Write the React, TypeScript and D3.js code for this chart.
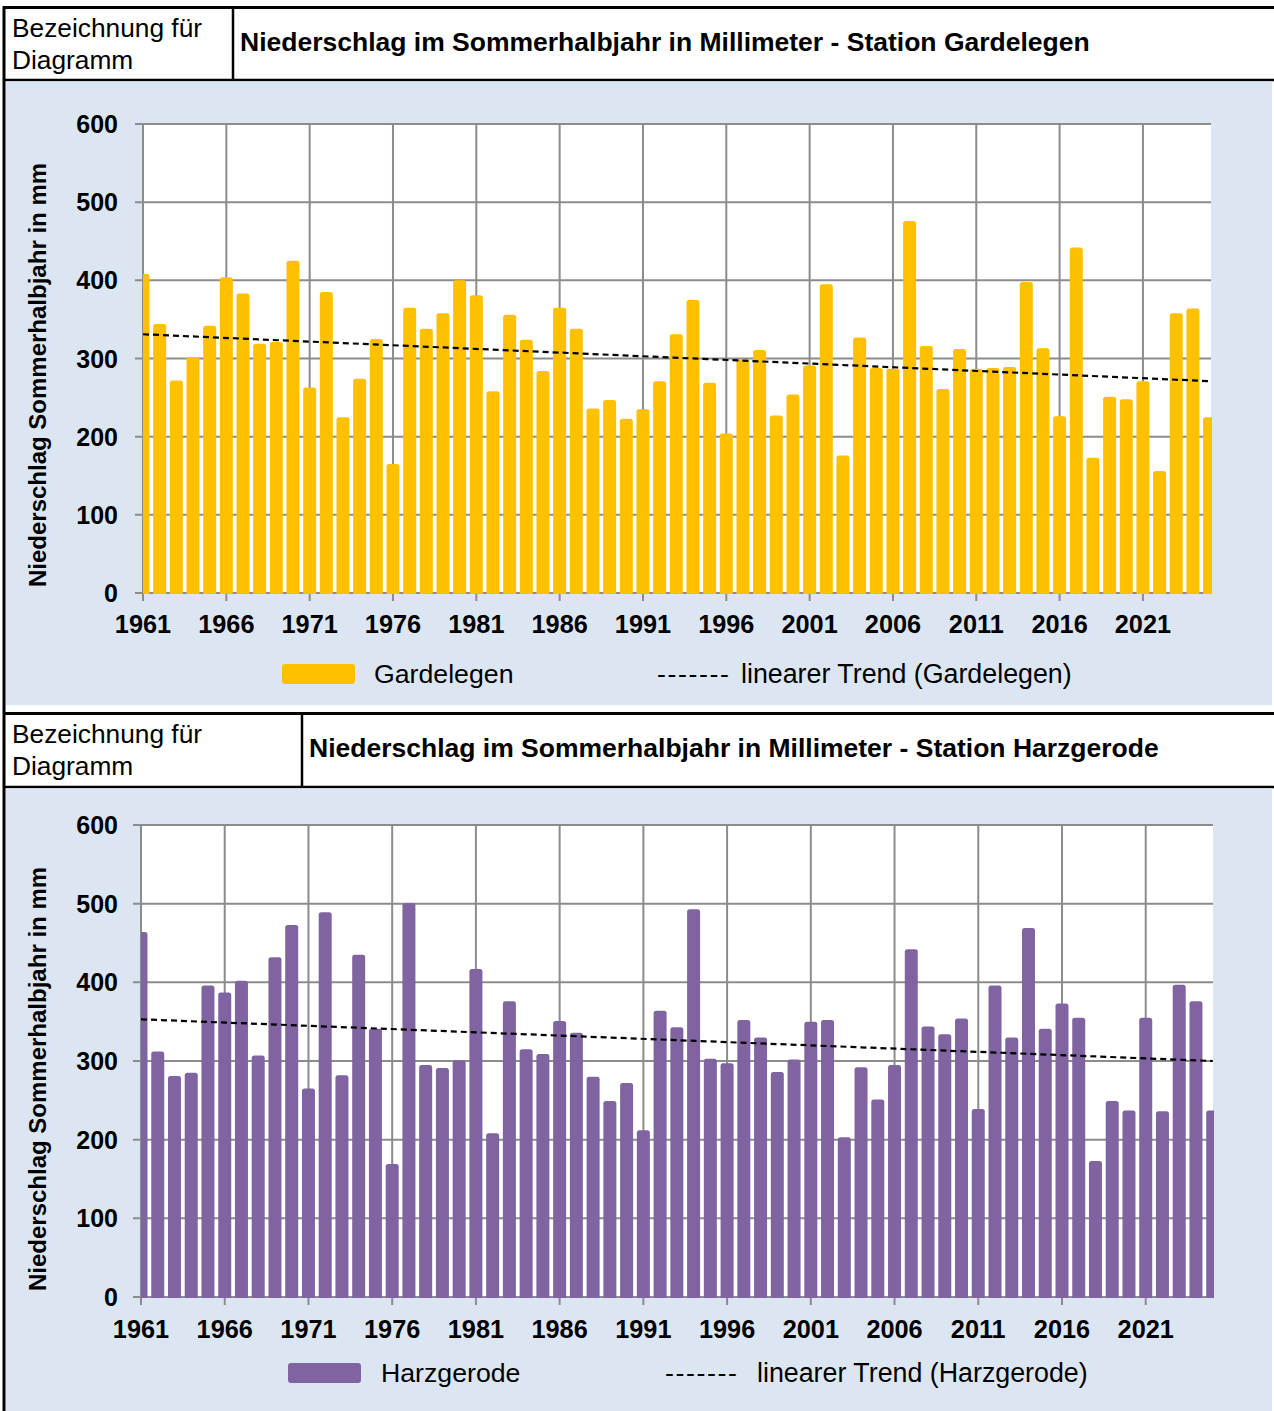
import React from 'react';
import * as d3 from 'd3';

const FIRST_YEAR = 1961;
const LAST_YEAR = 2025;
const years: number[] = d3.range(FIRST_YEAR, LAST_YEAR + 1);

const gardelegen = [
  408, 344, 272, 302, 342, 404, 383, 319, 321, 425,
  263, 385, 225, 274, 325, 165, 365, 338, 358, 400,
  381, 258, 356, 324, 284, 365, 338, 236, 247, 223,
  235, 271, 331, 375, 269, 204, 299, 311, 227, 254,
  291, 395, 176, 327, 288, 287, 476, 316, 261, 312,
  287, 288, 289, 398, 313, 226, 442, 173, 251, 248,
  271, 156, 358, 364, 225,
];

const harzgerode = [
  464, 312, 281, 285, 396, 387, 402, 307, 432, 473,
  265, 489, 282, 435, 341, 169, 501, 295, 291, 301,
  417, 208, 376, 315, 309, 351, 336, 280, 249, 272,
  212, 364, 343, 493, 303, 297, 352, 330, 286, 302,
  350, 352, 203, 292, 251, 295, 442, 344, 334, 354,
  239, 396, 330, 469, 341, 373, 355, 173, 249, 237,
  355, 236, 397, 376, 237,
];

// linear trend values at first and last year
const gardelegenTrend = [331, 271];
const harzgerodeTrend = [353, 300];

const yTicks = [0, 100, 200, 300, 400, 500, 600];
const xTickYears = [1961, 1966, 1971, 1976, 1981, 1986, 1991, 1996, 2001, 2006, 2011, 2016, 2021];

const FONT = '"Liberation Sans", Arial, Helvetica, sans-serif';
const BG = '#DCE6F2';
const GRID = '#8C8C8C';

type PanelProps = {
  id: string;
  top: number;
  headerBottom: number;
  bgBottom: number;
  dividerX: number;
  station: string;
  values: number[];
  trend: number[];
  color: string;
  plotLeft: number;
  plotRight: number;
  lastCenter: number;
  plotTop: number;
  plotBottom: number;
  xLabelBaseline: number;
  yTitleCenter: number;
  legendY: number;
  swatchX: number;
  nameX: number;
  dashX: number;
  trendX: number;
};

function Panel(p: PanelProps) {
  const x = d3.scaleLinear().domain([FIRST_YEAR, LAST_YEAR]).range([p.plotLeft, p.lastCenter]);
  const y = d3.scaleLinear().domain([0, 600]).range([p.plotBottom, p.plotTop]);
  const barW = 13;
  const trendPts: [number, number][] = [[FIRST_YEAR, p.trend[0]], [LAST_YEAR, p.trend[1]]];
  const trendLine = d3.line<[number, number]>().x((d) => x(d[0])).y((d) => y(d[1]));
  const clipId = `clip-${p.id}`;
  const t = p.top;
  return (
    <g>
      {/* header */}
      <rect x={4} y={t} width={1270} height={p.headerBottom - t} fill="#fff" />
      <line x1={4} x2={1274} y1={t + 1.5} y2={t + 1.5} stroke="#000" strokeWidth={3} />
      <line x1={4} x2={1274} y1={p.headerBottom} y2={p.headerBottom} stroke="#000" strokeWidth={2.5} />
      <line x1={p.dividerX} x2={p.dividerX} y1={t} y2={p.headerBottom} stroke="#000" strokeWidth={2.5} />
      <text x={12} y={t + 31} fontFamily={FONT} fontSize={26.3} fill="#000">Bezeichnung für</text>
      <text x={12} y={t + 63} fontFamily={FONT} fontSize={26.3} fill="#000">Diagramm</text>
      <text x={p.dividerX + 7} y={t + 45} fontFamily={FONT} fontSize={26.5} fontWeight="bold" fill="#000">
        {`Niederschlag im Sommerhalbjahr in Millimeter - Station ${p.station}`}
      </text>
      {/* chart background */}
      <rect x={6} y={p.headerBottom + 1.5} width={1266} height={p.bgBottom - p.headerBottom - 1.5} fill={BG} />
      {/* plot area */}
      <rect x={p.plotLeft} y={p.plotTop} width={p.plotRight - p.plotLeft} height={p.plotBottom - p.plotTop} fill="#fff" />
      {yTicks.map((v) => (
        <line key={`h${v}`} x1={p.plotLeft - 8} x2={p.plotRight} y1={y(v)} y2={y(v)} stroke={GRID} strokeWidth={2} />
      ))}
      {xTickYears.map((yr) => (
        <line key={`v${yr}`} x1={x(yr)} x2={x(yr)} y1={p.plotTop} y2={p.plotBottom + 8} stroke={GRID} strokeWidth={2} />
      ))}
      <defs>
        <clipPath id={clipId}>
          <rect x={p.plotLeft} y={p.plotTop - 2} width={p.plotRight - p.plotLeft + 1} height={p.plotBottom - p.plotTop + 4} />
        </clipPath>
      </defs>
      <g clipPath={`url(#${clipId})`}>
        {years.map((yr, i) => {
          const top = y(p.values[i]);
          const l = x(yr) - barW / 2;
          const r = x(yr) + barW / 2;
          return (
            <path
              key={yr}
              d={`M${l},${p.plotBottom + 1} V${top + 2.5} Q${l},${top} ${l + 2.5},${top} H${r - 2.5} Q${r},${top} ${r},${top + 2.5} V${p.plotBottom + 1} Z`}
              fill={p.color}
            />
          );
        })}
        <path d={trendLine(trendPts) || ''} fill="none" stroke="#000" strokeWidth={2.2} strokeDasharray="6,4" />
      </g>
      {/* axis labels */}
      {yTicks.map((v) => (
        <text key={`yl${v}`} x={118} y={y(v) + 9} textAnchor="end" fontFamily={FONT} fontSize={25} fontWeight="bold" fill="#000">{v}</text>
      ))}
      {xTickYears.map((yr) => (
        <text key={`xl${yr}`} x={x(yr)} y={p.xLabelBaseline} textAnchor="middle" fontFamily={FONT} fontSize={25.3} fontWeight="bold" fill="#000">{yr}</text>
      ))}
      <text
        transform={`translate(46,${p.yTitleCenter}) rotate(-90)`}
        textAnchor="middle"
        fontFamily={FONT}
        fontSize={24}
        fontWeight="bold"
        fill="#000"
      >
        Niederschlag Sommerhalbjahr in mm
      </text>
      {/* legend */}
      <rect x={p.swatchX} y={p.legendY - 10} width={73} height={20} rx={3} fill={p.color} />
      <text x={p.nameX} y={p.legendY + 9} fontFamily={FONT} fontSize={26.7} fill="#000">{p.station}</text>
      <text x={p.dashX} y={p.legendY + 9} fontFamily={FONT} fontSize={26.7} fill="#000" letterSpacing={1.6}>-------</text>
      <text x={p.trendX} y={p.legendY + 9} fontFamily={FONT} fontSize={26.8} fill="#000">{`linearer Trend (${p.station})`}</text>
    </g>
  );
}

export default function App() {
  return (
    <svg width={1274} height={1411} style={{ position: 'absolute', left: 0, top: 0, background: '#fff' }}>
      <Panel
        id="g"
        top={6}
        headerBottom={80}
        bgBottom={705}
        dividerX={233}
        station="Gardelegen"
        values={gardelegen}
        trend={gardelegenTrend}
        color="#FFC000"
        plotLeft={143}
        plotRight={1211}
        lastCenter={1209.6}
        plotTop={124}
        plotBottom={593}
        xLabelBaseline={633}
        yTitleCenter={375}
        legendY={674}
        swatchX={282}
        nameX={374}
        dashX={657}
        trendX={741}
      />
      <Panel
        id="h"
        top={712}
        headerBottom={787}
        bgBottom={1411}
        dividerX={302}
        station="Harzgerode"
        values={harzgerode}
        trend={harzgerodeTrend}
        color="#8064A2"
        plotLeft={141}
        plotRight={1213}
        lastCenter={1212.7}
        plotTop={825}
        plotBottom={1297}
        xLabelBaseline={1338}
        yTitleCenter={1079}
        legendY={1373}
        swatchX={288}
        nameX={381}
        dashX={665}
        trendX={757}
      />
      <line x1={4} x2={4} y1={6} y2={1411} stroke="#000" strokeWidth={3} />
    </svg>
  );
}
